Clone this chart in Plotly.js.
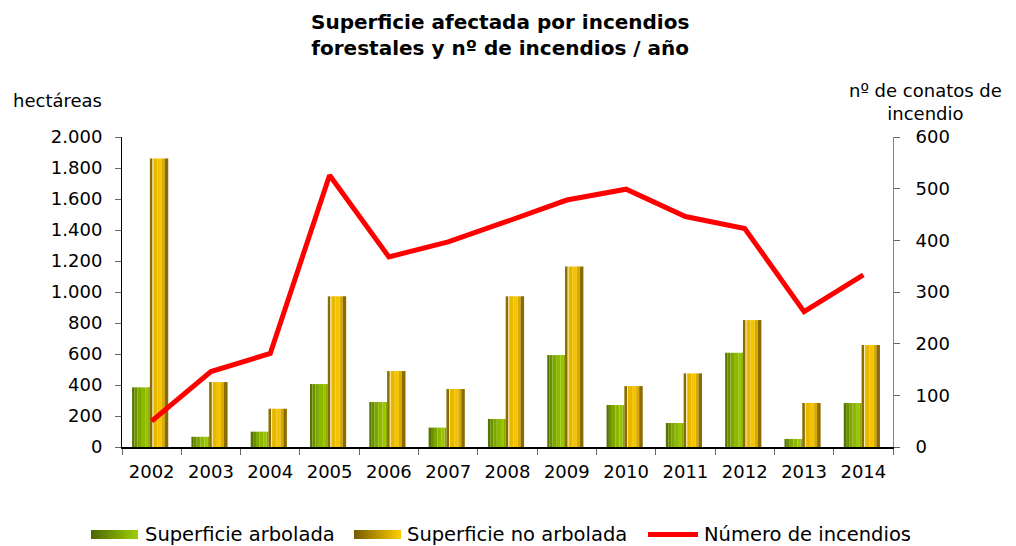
<!DOCTYPE html>
<html><head><meta charset="utf-8">
<script src="https://cdn.plot.ly/plotly-3.0.1.min.js"></script>
<style>body{margin:0;background:#fff}#chart{width:1016px;height:546px}</style>
</head><body><div id="chart"></div>
<script>
const years = ['2002','2003','2004','2005','2006','2007','2008','2009','2010','2011','2012','2013','2014'];
const arbolada = [385, 66, 99, 406, 290, 125, 181, 593, 271, 155, 608, 52, 284];
const noArbolada = [1862, 419, 247, 972, 490, 374, 972, 1165, 393, 475, 819, 284, 658];
const incendios = [50, 146, 181, 526, 368, 397, 437, 478, 499, 446, 423, 262, 333];
const seriesNames = ['Superficie arbolada', 'Superficie no arbolada', 'Número de incendios'];

const font = 'DejaVu Sans, Verdana, sans-serif';

// vertical shading strips (style only): [start offset, end offset, colour]
const greenStrips = [[-0.33,-0.29,'#557500'],[-0.29,-0.24,'#6a9000'],[-0.24,-0.18,'#7ca600'],
                     [-0.18,-0.11,'#8cb800'],[-0.11,-0.06,'#99c400'],[-0.06,-0.03,'#86ac00']];
const goldStrips  = [[-0.03,0.015,'#8a6c00'],[0.015,0.03,'#fbeeb0'],[0.03,0.10,'#e8b800'],
                     [0.10,0.17,'#f4c400'],[0.17,0.22,'#d8aa00'],[0.22,0.28,'#8a6c00']];

const traces = [];
function addStrips(values, strips, name) {
  strips.forEach(s => traces.push({type:'bar', x:years, y:values, name:name, showlegend:false,
    offset:s[0], width:s[1]-s[0], marker:{color:s[2], line:{width:0}}, hoverinfo:'skip'}));
}
addStrips(arbolada, greenStrips, seriesNames[0]);
addStrips(noArbolada, goldStrips, seriesNames[1]);
traces.push({type:'scatter', mode:'lines', x:years, y:incendios, name:seriesNames[2], yaxis:'y2',
  showlegend:false, line:{color:'#ff0000', width:5}});

// plot-area pixel helpers for layout decorations
const L=122, T=137, W=771, H=310;
const px = x => (x-L)/W, py = y => (T+H-y)/H;

function mix(c0, c1, t) {
  const a = [1,3,5].map(i => parseInt(c0.substr(i,2),16)), b = [1,3,5].map(i => parseInt(c1.substr(i,2),16));
  return 'rgb(' + a.map((v,i) => Math.round(v + (b[i]-v)*t)).join(',') + ')';
}
const shapes = [];
function legendSwatch(x0, x1, y0, y1, c0, c1) {
  const n = 23, w = (x1-x0)/n;
  for (let i=0;i<n;i++) shapes.push({type:'rect', xref:'paper', yref:'paper',
    x0:px(x0+i*w), x1:px(x0+(i+1)*w+1), y0:py(y1), y1:py(y0), fillcolor:mix(c0,c1,i/(n-1)), line:{width:0}});
}
legendSwatch(91, 137, 530, 539, '#4c6800', '#9ccb00');
legendSwatch(354, 400, 530, 539, '#785c00', '#fac900');
shapes.push({type:'line', xref:'paper', yref:'paper', x0:px(648), x1:px(698), y0:py(534.5), y1:py(534.5),
  line:{color:'#ff0000', width:5}});

const layout = {
  width:1016, height:546,
  margin:{l:L, r:1016-L-W, t:T, b:546-T-H},
  paper_bgcolor:'#fff', plot_bgcolor:'#fff',
  separators:',.',
  font:{family:font, size:18, color:'#000'},
  barmode:'overlay',
  showlegend:false,
  xaxis:{type:'category', showline:true, linecolor:'#000', linewidth:1.5, ticks:'outside', tickson:'boundaries',
    ticklen:6, tickcolor:'#666', tickfont:{size:18}, ticklabelstandoff:8, showgrid:false, zeroline:false},
  yaxis:{range:[0,2000], dtick:200, tickformat:',d', separatethousands:true, showline:true, linecolor:'#000', linewidth:1,
    ticks:'outside', ticklen:6, tickcolor:'#666', ticklabelstandoff:9, showgrid:false, zeroline:false, tickfont:{size:18}},
  yaxis2:{range:[0,600], dtick:100, overlaying:'y', side:'right', showline:true, linecolor:'#888', linewidth:1,
    ticks:'outside', ticklen:6, tickcolor:'#666', ticklabelstandoff:12, showgrid:false, zeroline:false, tickfont:{size:18}},
  shapes: shapes,
  annotations:[
    {text:'<b>Superficie afectada por incendios<br>forestales y nº de incendios / año</b>', xref:'paper', yref:'paper',
      x:px(500), y:py(35), xanchor:'center', yanchor:'middle', showarrow:false, font:{size:20}, align:'center'},
    {text:'hectáreas', xref:'paper', yref:'paper', x:px(11), y:py(101), xanchor:'left', yanchor:'middle', showarrow:false, font:{size:18}},
    {text:'nº de conatos de<br>incendio', xref:'paper', yref:'paper', x:px(925), y:py(101.5), xanchor:'center', yanchor:'middle', showarrow:false, font:{size:18}, align:'center'},
    {text:seriesNames[0], xref:'paper', yref:'paper', x:px(143), y:py(534), xanchor:'left', yanchor:'middle', showarrow:false, font:{size:19.5}},
    {text:seriesNames[1], xref:'paper', yref:'paper', x:px(405), y:py(534), xanchor:'left', yanchor:'middle', showarrow:false, font:{size:19.5}},
    {text:seriesNames[2], xref:'paper', yref:'paper', x:px(702), y:py(534), xanchor:'left', yanchor:'middle', showarrow:false, font:{size:19.5}}
  ]
};
Plotly.newPlot('chart', traces, layout, {displayModeBar:false, staticPlot:true});
</script></body></html>
